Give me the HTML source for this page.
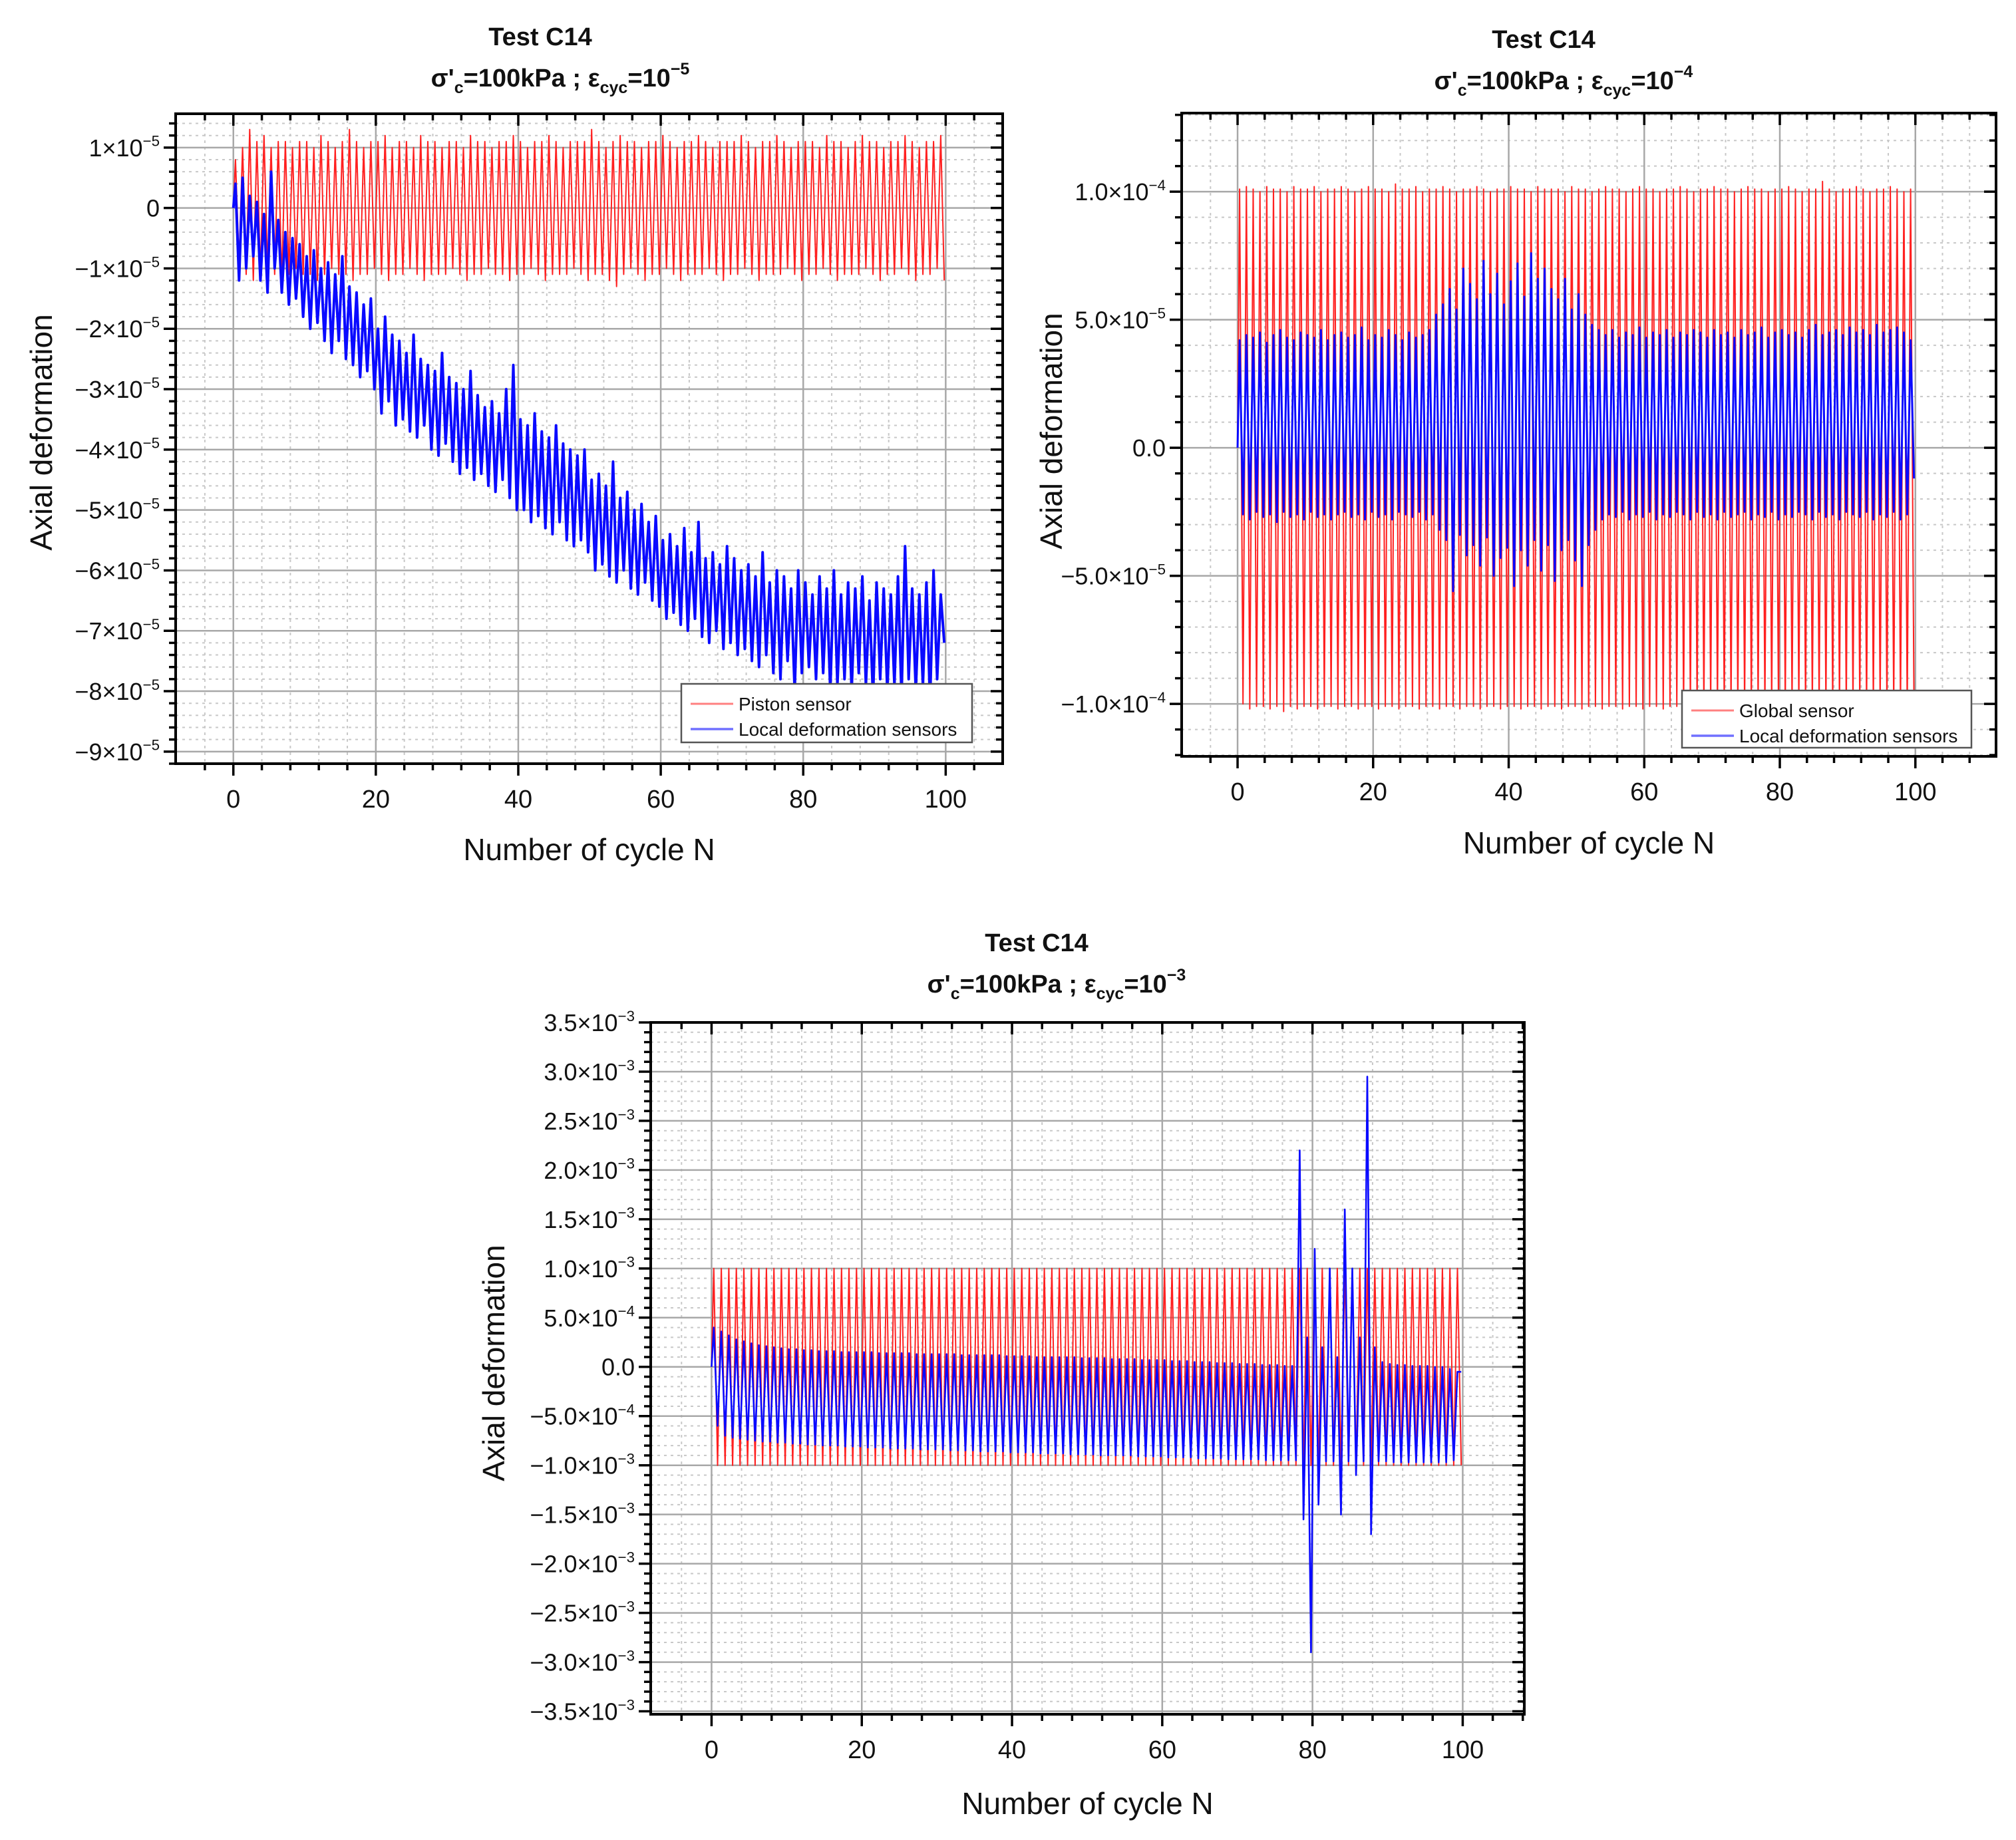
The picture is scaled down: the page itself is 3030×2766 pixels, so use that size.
<!DOCTYPE html>
<html><head><meta charset="utf-8"><style>
html,body{margin:0;padding:0;background:#fff;}
svg{display:block;font-family:"Liberation Sans",sans-serif;}
</style></head><body>
<svg id="fig" width="3030" height="2766" viewBox="0 0 3030 2766" xmlns="http://www.w3.org/2000/svg">
<rect width="3030" height="2766" fill="#fff"/>
</svg>
<script>
// ---------- DATA ----------
// Chart 1 (units 1e-6)
const red1Max=[8,10,13,11,12,10,11,11,10,11,11,10,12,11,10,11,13,11,10,11,11,12,10,11,11,10,12,11,11,10,11,11,10,12,11,11,10,11,11,12,11,10,11,11,12,11,10,11,11,11,13,11,10,11,12,11,11,10,11,11,12,11,10,11,11,12,11,10,11,11,11,12,11,10,11,11,12,11,10,11,11,11,10,12,11,11,10,11,12,11,11,10,11,11,12,11,10,11,11,12];
const red1Min=[-9,-11,-12,-11,-10,-11,-12,-11,-10,-11,-11,-12,-11,-10,-11,-11,-12,-11,-11,-10,-11,-12,-11,-11,-10,-11,-12,-11,-11,-11,-10,-11,-12,-11,-11,-10,-11,-11,-12,-11,-11,-10,-11,-12,-11,-11,-11,-10,-11,-12,-11,-11,-12,-13,-11,-10,-11,-12,-11,-11,-10,-11,-12,-11,-11,-11,-10,-11,-12,-11,-11,-10,-11,-12,-11,-11,-11,-10,-11,-12,-11,-11,-10,-11,-12,-11,-11,-11,-10,-11,-12,-11,-11,-10,-11,-12,-11,-11,-10,-12];
const blue1Max=[4,5,2,1,-1,6,-2,-4,-5,-6,-8,-7,-10,-9,-11,-8,-13,-14,-16,-15,-20,-18,-21,-22,-24,-21,-25,-26,-27,-24,-28,-29,-30,-27,-31,-33,-32,-34,-30,-26,-35,-36,-34,-37,-38,-36,-39,-40,-41,-40,-45,-44,-46,-42,-48,-47,-50,-49,-52,-51,-55,-54,-56,-53,-57,-52,-58,-57,-59,-56,-58,-60,-59,-61,-57,-62,-60,-61,-63,-60,-62,-64,-61,-63,-60,-64,-62,-63,-61,-65,-62,-63,-64,-61,-56,-63,-64,-62,-60,-64];
const blue1Min=[-12,-10,-8,-12,-14,-10,-14,-16,-15,-18,-20,-19,-22,-24,-22,-25,-26,-28,-27,-30,-34,-32,-36,-35,-37,-38,-36,-40,-41,-39,-42,-44,-43,-45,-44,-46,-47,-45,-48,-50,-50,-52,-51,-53,-54,-52,-55,-56,-55,-57,-60,-59,-61,-62,-60,-63,-64,-62,-65,-66,-68,-67,-69,-70,-68,-71,-72,-70,-73,-72,-74,-73,-75,-76,-74,-77,-78,-75,-80,-77,-76,-78,-77,-80,-79,-78,-80,-77,-79,-81,-78,-80,-79,-81,-78,-80,-79,-82,-78,-72];
const y1Ticks=[10,0,-10,-20,-30,-40,-50,-60,-70,-80,-90];
const y1Mant=["1×10","0","−1×10","−2×10","−3×10","−4×10","−5×10","−6×10","−7×10","−8×10","−9×10"];
const y1Exp=["−5","","−5","−5","−5","−5","−5","−5","−5","−5","−5"];
// Chart 2 (units 1e-5)
const red2Max=[10.1,10.2,10.1,10.0,10.2,10.1,10.1,10.0,10.2,10.1,10.1,10.2,10.0,10.1,10.1,10.2,10.1,10.0,10.1,10.2,10.1,10.1,10.0,10.3,10.1,10.1,10.2,10.0,10.1,10.1,10.2,10.1,10.0,10.1,10.1,10.2,10.1,10.0,10.1,10.1,10.2,10.1,10.1,10.0,10.2,10.1,10.1,10.1,10.0,10.2,10.1,10.1,10.0,10.1,10.2,10.1,10.1,10.0,10.1,10.2,10.1,10.1,10.0,10.1,10.1,10.2,10.1,10.0,10.1,10.1,10.2,10.1,10.1,10.0,10.1,10.2,10.1,10.1,10.0,10.1,10.1,10.2,10.1,10.0,10.1,10.1,10.4,10.1,10.0,10.1,10.1,10.2,10.1,10.0,10.1,10.1,10.2,10.1,10.0,10.1];
const red2Min=[-10.0,-10.2,-10.1,-10.1,-10.2,-10.1,-10.3,-10.1,-10.2,-10.1,-10.1,-10.2,-10.1,-10.1,-10.2,-10.1,-10.1,-10.2,-10.1,-10.1,-10.2,-10.1,-10.1,-10.2,-10.1,-10.1,-10.2,-10.1,-10.1,-10.2,-10.1,-10.1,-10.2,-10.1,-10.1,-10.2,-10.1,-10.1,-10.2,-10.1,-10.1,-10.2,-10.1,-10.1,-10.2,-10.1,-10.1,-10.2,-10.1,-10.1,-10.2,-10.1,-10.1,-10.2,-10.1,-10.1,-10.2,-10.1,-10.1,-10.2,-10.1,-10.1,-10.2,-10.1,-10.1,-10.2,-10.1,-10.1,-10.2,-10.1,-10.1,-10.2,-10.1,-10.1,-10.2,-10.1,-10.1,-10.2,-10.1,-10.1,-10.2,-10.1,-10.1,-10.2,-10.1,-10.1,-10.2,-10.1,-10.1,-10.2,-10.1,-10.1,-10.2,-10.1,-10.1,-10.2,-10.1,-10.1,-10.2,-10.1];
const blue2Max=[4.2,4.4,4.3,4.5,4.1,4.4,4.6,4.3,4.2,4.5,4.4,4.3,4.6,4.2,4.4,4.5,4.3,4.4,4.7,4.2,4.4,4.3,4.6,4.4,4.2,4.5,4.3,4.4,4.6,5.2,5.6,6.2,5.4,7.0,6.4,5.8,7.3,6.0,6.8,5.6,6.5,7.2,5.9,7.6,6.6,7.0,6.2,5.8,6.6,5.4,6.0,5.2,4.8,4.6,4.4,4.6,4.3,4.5,4.4,4.7,4.3,4.5,4.4,4.6,4.3,4.5,4.4,4.6,4.5,4.3,4.6,4.4,4.5,4.3,4.6,4.4,4.5,4.7,4.3,4.5,4.6,4.4,4.5,4.3,4.6,4.8,4.4,4.5,4.6,4.4,4.7,4.5,4.6,4.4,4.8,4.5,4.6,4.7,4.5,4.2];
const blue2Min=[-2.6,-2.8,-2.5,-2.7,-2.6,-2.9,-2.5,-2.7,-2.6,-2.8,-2.5,-2.7,-2.6,-2.8,-2.6,-2.5,-2.7,-2.6,-2.8,-2.5,-2.7,-2.6,-2.8,-2.5,-2.6,-2.7,-2.5,-2.8,-2.6,-3.2,-3.6,-5.6,-3.4,-4.2,-3.8,-4.6,-3.5,-5.0,-4.3,-3.9,-5.4,-4.0,-4.6,-3.6,-4.8,-3.8,-5.2,-4.0,-3.6,-4.4,-5.4,-3.8,-3.2,-2.8,-2.6,-2.7,-2.5,-2.8,-2.6,-2.7,-2.5,-2.8,-2.6,-2.7,-2.5,-2.6,-2.8,-2.5,-2.7,-2.6,-2.8,-2.5,-2.7,-2.6,-2.5,-2.8,-2.6,-2.7,-2.5,-2.8,-2.6,-2.7,-2.5,-2.6,-2.8,-2.5,-2.7,-2.6,-2.8,-2.5,-2.6,-2.7,-2.5,-2.8,-2.6,-2.7,-2.5,-2.8,-2.6,-1.2];
const y2Ticks=[10,5,0,-5,-10];
const y2Mant=["1.0×10","5.0×10","0.0","−5.0×10","−1.0×10"];
const y2Exp=["−4","−5","","−5","−4"];
// Chart 3 (units 1e-4)
const red3Max=[10,10,10,10,10,10,10,10,10,10,10,10,10,10,10,10,10,10,10,10,10,10,10,10,10,10,10,10,10,10,10,10,10,10,10,10,10,10,10,10,10,10,10,10,10,10,10,10,10,10,10,10,10,10,10,10,10,10,10,10,10,10,10,10,10,10,10,10,10,10,10,10,10,10,10,10,10,10,10,10,10,10,10,10,10,10,10,10,10,10,10,10,10,10,10,10,10,10,10,10];
const red3Min=[-10,-10,-10,-10,-10,-10,-10,-10,-10,-10,-10,-10,-10,-10,-10,-10,-10,-10,-10,-10,-10,-10,-10,-10,-10,-10,-10,-10,-10,-10,-10,-10,-10,-10,-10,-10,-10,-10,-10,-10,-10,-10,-10,-10,-10,-10,-10,-10,-10,-10,-10,-10,-10,-10,-10,-10,-10,-10,-10,-10,-10,-10,-10,-10,-10,-10,-10,-10,-10,-10,-10,-10,-10,-10,-10,-10,-10,-10,-10,-10,-10,-10,-10,-10,-10,-10,-10,-10,-10,-10,-10,-10,-10,-10,-10,-10,-10,-10,-10,-10];
const blue3Max=[4,3.6,3.2,2.8,2.6,2.4,2.2,2.1,2,1.9,1.8,1.8,1.7,1.7,1.6,1.6,1.6,1.5,1.5,1.5,1.5,1.5,1.4,1.4,1.4,1.4,1.4,1.3,1.3,1.3,1.3,1.3,1.3,1.2,1.2,1.2,1.2,1.2,1.2,1.1,1.1,1.1,1.1,1.0,1.0,1.0,1.0,1.0,1.0,0.9,0.9,0.9,0.9,0.8,0.8,0.8,0.8,0.7,0.7,0.7,0.7,0.6,0.6,0.6,0.5,0.5,0.5,0.4,0.4,0.4,0.3,0.3,0.3,0.2,0.2,0.2,0.1,0.1,22,3,12,2,10,1,16,10,3,29.5,2,0.5,0.3,0.2,0.2,0.1,0.1,0.1,0,0,-0.2,-0.5];
const blue3Min=[-6,-7,-7.2,-7.3,-7.4,-7.5,-7.6,-7.6,-7.7,-7.7,-7.8,-7.8,-7.9,-7.9,-8,-8,-8,-8.1,-8.1,-8.1,-8.2,-8.2,-8.2,-8.3,-8.3,-8.3,-8.3,-8.4,-8.4,-8.4,-8.4,-8.5,-8.5,-8.5,-8.5,-8.6,-8.6,-8.6,-8.6,-8.7,-8.7,-8.7,-8.7,-8.8,-8.8,-8.8,-8.8,-8.9,-8.9,-8.9,-8.9,-9,-9,-9,-9,-9,-9.1,-9.1,-9.1,-9.1,-9.2,-9.2,-9.2,-9.2,-9.3,-9.3,-9.3,-9.3,-9.4,-9.4,-9.4,-9.4,-9.4,-9.5,-9.5,-9.5,-9.5,-9.5,-15.5,-29,-14,-9.6,-9.6,-15,-9.6,-11,-9.6,-17,-9.6,-9.6,-9.7,-9.7,-9.7,-9.7,-9.7,-9.7,-9.7,-9.7,-9.5,-0.5];
const y3Ticks=[35,30,25,20,15,10,5,0,-5,-10,-15,-20,-25,-30,-35];
const y3Mant=["3.5×10","3.0×10","2.5×10","2.0×10","1.5×10","1.0×10","5.0×10","0.0","−5.0×10","−1.0×10","−1.5×10","−2.0×10","−2.5×10","−3.0×10","−3.5×10"];
const y3Exp=["−3","−3","−3","−3","−3","−3","−4","","−4","−3","−3","−3","−3","−3","−3"];
const xTicks=[0,20,40,60,80,100];

// ---------- DRAW ----------
const NS="http://www.w3.org/2000/svg";
const svg=document.getElementById('fig');
function el(tag,attrs,parent){const e=document.createElementNS(NS,tag);for(const k in attrs)e.setAttribute(k,attrs[k]);(parent||svg).appendChild(e);return e;}

function chart(o){
  const g=el('g',{});
  
  
  const sx=v=>o.x0+(v-o.xmin)/(o.xmax-o.xmin)*(o.x1-o.x0);
  const sy=v=>o.y1-(v-o.ymin)/(o.ymax-o.ymin)*(o.y1-o.y0);
  for(let v=-4;v<=o.xmax;v+=4){if(v<=o.xmin||v%20===0)continue;
    el('line',{x1:sx(v),x2:sx(v),y1:o.y0,y2:o.y1,stroke:'#c8c8c8','stroke-width':2,'stroke-dasharray':'4 6'},g);}
  for(let v=Math.ceil(o.ymin/o.ym)*o.ym;v<=o.ymax;v+=o.ym){
    const r=Math.round(v/o.ym)*o.ym; if(Math.abs(r/o.yM-Math.round(r/o.yM))<1e-6)continue;
    el('line',{x1:o.x0,x2:o.x1,y1:sy(r),y2:sy(r),stroke:'#c8c8c8','stroke-width':2,'stroke-dasharray':'4 6'},g);}
  xTicks.forEach(v=>el('line',{x1:sx(v),x2:sx(v),y1:o.y0,y2:o.y1,stroke:'#a8a8a8','stroke-width':2.5},g));
  o.yt.forEach(v=>el('line',{x1:o.x0,x2:o.x1,y1:sy(v),y2:sy(v),stroke:'#a8a8a8','stroke-width':2.5},g));
  const clip='clip-'+o.name;
  const cp=el('clipPath',{id:clip},g); el('rect',{x:o.x0,y:o.y0,width:o.x1-o.x0,height:o.y1-o.y0},cp);
  function series(maxA,minA,color,w,nm){
    let d='M'+sx(0)+','+sy(0);
    for(let i=0;i<maxA.length;i++){d+=' L'+sx(i+0.3).toFixed(1)+','+sy(maxA[i]).toFixed(1)+' L'+sx(i+0.8).toFixed(1)+','+sy(minA[i]).toFixed(1);}
    const p=el('path',{d:d,fill:'none',stroke:color,'stroke-width':w,'stroke-linejoin':'round','clip-path':'url(#'+clip+')'},g);
    
    
  }
  series(o.rMax,o.rMin,'#ff2020',2,'red-series');
  series(o.bMax,o.bMin,'#0a0aff',o.bw||2.6,'blue-series');
  el('rect',{x:o.x0,y:o.y0,width:o.x1-o.x0,height:o.y1-o.y0,fill:'none',stroke:'#000','stroke-width':4},g);
  for(let v=-4;v<o.xmax;v+=4){ if(v<=o.xmin)continue; const M=v%20===0; const L=M?18:10;
    el('line',{x1:sx(v),x2:sx(v),y1:o.y1,y2:o.y1+L,stroke:'#000','stroke-width':3.5},g);
    el('line',{x1:sx(v),x2:sx(v),y1:o.y0,y2:o.y0+L,stroke:'#000','stroke-width':3.5},g);}
  for(let v=Math.ceil(o.ymin/o.ym)*o.ym;v<=o.ymax;v+=o.ym){const r=Math.round(v/o.ym)*o.ym;
    const M=Math.abs(r/o.yM-Math.round(r/o.yM))<1e-6; const L=M?18:10;
    el('line',{x1:o.x0-L,x2:o.x0,y1:sy(r),y2:sy(r),stroke:'#000','stroke-width':3.5},g);
    el('line',{x1:o.x1-L,x2:o.x1,y1:sy(r),y2:sy(r),stroke:'#000','stroke-width':3.5},g);}
  xTicks.forEach(v=>{const t=el('text',{x:sx(v),y:o.y1+66,'text-anchor':'middle','font-size':o.fs+2,fill:'#111'},g);t.textContent=v;
    
    });
  o.yt.forEach((v,i)=>{const t=el('text',{x:o.x0-24,y:sy(v)+o.fs*0.36,'text-anchor':'end','font-size':o.fs,fill:'#111'},g);
    
    
    const a=el('tspan',{},t);a.textContent=o.ym2[i];
    if(o.ye[i]){const b=el('tspan',{dy:-o.fs*0.42,'font-size':o.fs*0.62},t);b.textContent=o.ye[i];}});
  const xt=el('text',{x:(o.x0+o.x1)/2,y:o.xty,'text-anchor':'middle','font-size':46,fill:'#111'},g);xt.textContent='Number of cycle N';
  
  
  const yt=el('text',{x:0,y:0,'text-anchor':'middle','font-size':46,fill:'#111',transform:'translate('+o.ytx+','+o.yty+') rotate(-90)'},g);yt.textContent='Axial deformation';
  
  
  const t1=el('text',{x:o.tx,y:o.ty,'text-anchor':'middle','font-size':38,'font-weight':'bold',fill:'#111'},g);t1.textContent='Test C14';
  
  
  const t2=el('text',{x:o.tx+30,y:o.ty+62,'text-anchor':'middle','font-size':38,'font-weight':'bold',fill:'#111'},g);
  
  
  const parts=[["σ'",0,38],["c",10,25],["=100kPa ; ε",-10,38],["cyc",10,25],["=10",-10,38],[o.expT,-18,25]];
  parts.forEach(p=>{const s=el('tspan',{dy:p[1],'font-size':p[2]},t2);s.textContent=p[0];});
  if(o.leg){const L=o.leg;const lg=el('g',{},g);
    
    
    el('rect',{x:L.x,y:L.y,width:L.w,height:L.h,fill:'#fff',stroke:'#555','stroke-width':2.5},lg);
    el('line',{x1:L.x+14,x2:L.x+78,y1:L.y+30,y2:L.y+30,stroke:'#ff8080','stroke-width':3},lg);
    el('line',{x1:L.x+14,x2:L.x+78,y1:L.y+68,y2:L.y+68,stroke:'#7070ff','stroke-width':3.5},lg);
    const a=el('text',{x:L.x+86,y:L.y+40,'font-size':28,fill:'#111'},lg);a.textContent=L.a;
    
    
    const b=el('text',{x:L.x+86,y:L.y+78,'font-size':28,fill:'#111'},lg);b.textContent='Local deformation sensors';
    
    }
}

chart({name:'chart-1e-5',x0:264,x1:1507,y0:171,y1:1148,xmin:-8.1,xmax:108,ymin:-92,ymax:15.6,yM:10,ym:2,
  rMax:red1Max,rMin:red1Min,bMax:blue1Max,bMin:blue1Min,yt:y1Ticks,ym2:y1Mant,ye:y1Exp,fs:36,bw:4,
  xty:1293,ytx:78,yty:650,tx:812,ty:68,expT:'−5',leg:{x:1024,y:1028,w:437,h:88,a:'Piston sensor'}});
chart({name:'chart-1e-4',x0:1776,x1:3000,y0:170,y1:1137,xmin:-8.25,xmax:111.9,ymin:-12.05,ymax:13.07,yM:5,ym:1,
  rMax:red2Max,rMin:red2Min,bMax:blue2Max,bMin:blue2Min,yt:y2Ticks,ym2:y2Mant,ye:y2Exp,fs:36,bw:3,
  xty:1283,ytx:1596,yty:648,tx:2320,ty:72,expT:'−4',leg:{x:2528,y:1038,w:435,h:86,a:'Global sensor'}});
chart({name:'chart-1e-3',x0:978,x1:2291,y0:1537,y1:2577,xmin:-8.1,xmax:108.2,ymin:-35.3,ymax:35,yM:5,ym:1,
  rMax:red3Max,rMin:red3Min,bMax:blue3Max,bMin:blue3Min,yt:y3Ticks,ym2:y3Mant,ye:y3Exp,fs:36,
  xty:2727,ytx:758,yty:2049,tx:1558,ty:1430,expT:'−3'});
</script>
</body></html>
